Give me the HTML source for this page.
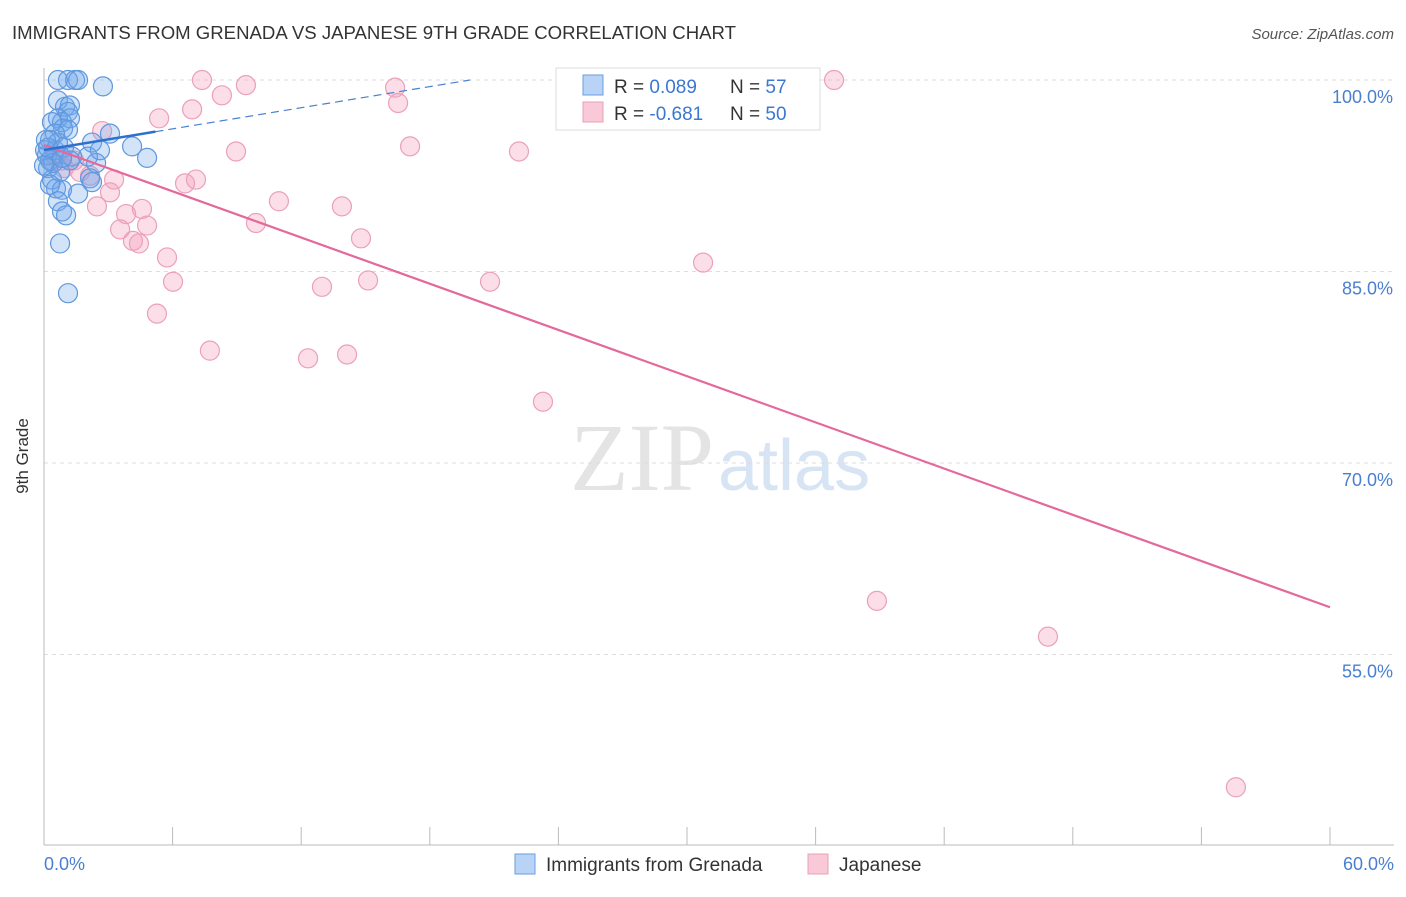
<!DOCTYPE html>
<html><head><meta charset="utf-8"><style>
body{margin:0;background:#fff;font-family:"Liberation Sans",sans-serif}
</style></head><body>
<svg width="1406" height="892" xmlns="http://www.w3.org/2000/svg" font-family="Liberation Sans, sans-serif">
<text x="12" y="39" font-size="18" fill="#333" textLength="724" lengthAdjust="spacingAndGlyphs">IMMIGRANTS FROM GRENADA VS JAPANESE 9TH GRADE CORRELATION CHART</text>
<text x="1394" y="39" font-size="15" fill="#555" font-style="italic" text-anchor="end">Source: ZipAtlas.com</text>
<text x="714" y="490" font-size="96" fill="#e4e4e4" text-anchor="end" font-family="Liberation Serif, serif">ZIP</text>
<text x="718" y="490" font-size="72" fill="#d6e4f4">atlas</text>
<g id="grid"></g>
<line x1="44" y1="68" x2="44" y2="845" stroke="#bbb"/>
<line x1="44" y1="845" x2="1394" y2="845" stroke="#bbb"/>
<g id="xticks"></g>
<text x="28" y="456" font-size="17" fill="#333" text-anchor="middle" transform="rotate(-90 28 456)">9th Grade</text>
<text x="44" y="870" font-size="18" fill="#4a7fd0">0.0%</text>
<text x="1394" y="870" font-size="18" fill="#4a7fd0" text-anchor="end">60.0%</text>
<g id="pts"></g>
<g id="trends"></g>
<g>
<rect x="556" y="68" width="264" height="62" fill="#fff" stroke="#ddd"/>
<rect x="583" y="75" width="20" height="20" fill="#b8d3f5" stroke="#6a9ee0"/>
<rect x="583" y="102" width="20" height="20" fill="#f9c9d7" stroke="#e8a0b8"/>
<text x="614" y="93" font-size="19" fill="#333">R = <tspan fill="#3b78d0">0.089</tspan></text>
<text x="730" y="93" font-size="19" fill="#333">N = <tspan fill="#3b78d0">57</tspan></text>
<text x="614" y="120" font-size="19" fill="#333">R = <tspan fill="#3b78d0">-0.681</tspan></text>
<text x="730" y="120" font-size="19" fill="#333">N = <tspan fill="#3b78d0">50</tspan></text>
</g>
<g>
<rect x="515" y="854" width="20" height="20" fill="#b8d3f5" stroke="#6a9ee0"/>
<text x="546" y="871" font-size="19" fill="#333">Immigrants from Grenada</text>
<rect x="808" y="854" width="20" height="20" fill="#f9c9d7" stroke="#e8a0b8"/>
<text x="839" y="871" font-size="19" fill="#333">Japanese</text>
</g>
</svg>
<script>
const yTicks=[100,85,70,55];
const blueX=[0.65,1.12,1.45,1.59,2.75,0.65,0.98,1.21,1.12,0.65,0.84,1.21,0.89,1.12,0.37,0.51,0.28,3.08,2.24,4.11,4.81,2.43,2.15,2.24,0.51,0.28,0.19,0.37,0.56,0.84,1.59,0.65,0.84,1.03,0.75,1.12,0.05,0.14,0.42,0.75,2.05,1.31,2.61,0.93,0.65,0,0.28,1.21,0.84,0.19,0.09];
const blueY=[100,100,100,100,99.5,98.4,97.9,98.0,97.5,97.0,96.7,97.0,96.2,96.1,96.7,95.8,95.3,95.8,95.1,94.8,93.9,93.5,92.3,92.0,94.5,93.7,93.1,92.2,91.5,91.4,91.1,90.5,89.7,89.4,87.2,83.3,94.5,94.1,93.5,92.8,94.0,94.0,94.5,94.7,95.1,93.3,91.8,93.7,93.9,94.7,95.3];
const pinkX=[7.37,9.42,8.30,6.91,5.37,16.38,16.52,36.86,2.71,8.96,17.08,22.16,0.84,1.68,3.08,3.27,6.58,7.09,2.47,3.83,4.57,3.55,4.81,4.15,4.43,10.96,13.90,9.89,14.79,5.74,6.02,12.97,15.12,20.81,30.75,5.27,7.74,12.32,14.14,23.28,38.86,46.84,55.61,2.15,1.40,0.56,0.93,0.37];
const pinkY=[100,99.6,98.8,97.7,97.0,99.4,98.2,100,96.0,94.4,94.8,94.4,93.7,92.8,91.2,92.2,91.9,92.2,90.1,89.5,89.9,88.3,88.6,87.4,87.2,90.5,90.1,88.8,87.6,86.1,84.2,83.8,84.3,84.2,85.7,81.7,78.8,78.2,78.5,74.8,59.2,56.4,44.6,92.5,93.7,94.0,93.1,93.7];
const blueTrend=[94.52,0.2757]; // intercept, slope
const pinkTrend=[94.9,-0.6033];
const NS="http://www.w3.org/2000/svg";
const X=v=>44+v/60*1286, Y=v=>80+(100-v)*191.5/15;
function mk(t,a,p){const e=document.createElementNS(NS,t);for(const k in a)e.setAttribute(k,a[k]);p.appendChild(e);return e;}
const grid=document.getElementById('grid');
yTicks.forEach(t=>{
 const l=mk('line',{x1:44,x2:1394,y1:Y(t),y2:Y(t),stroke:'#ddd','stroke-dasharray':'4,4'},grid);
 
 
 const tx=mk('text',{x:1393,y:Y(t)+23,'font-size':18,fill:'#4a7fd0','text-anchor':'end'},grid);
 tx.textContent=t.toFixed(1)+'%';
 
 
});
const xt=document.getElementById('xticks');
for(let i=0;i<=10;i++){const l=mk('line',{x1:X(i*6),x2:X(i*6),y1:827,y2:845,stroke:'#bbb'},xt);
 
 }
const pts=document.getElementById('pts');
pinkX.forEach((x,i)=>{const c=mk('circle',{cx:X(x),cy:Y(pinkY[i]),r:9.5,fill:'rgba(244,160,188,0.35)',stroke:'#eba0b9','stroke-width':1.2},pts);
 
 });
blueX.forEach((x,i)=>{const c=mk('circle',{cx:X(x),cy:Y(blueY[i]),r:9.5,fill:'rgba(110,165,235,0.3)',stroke:'#5f98de','stroke-width':1.2},pts);
 
 });
const tr=document.getElementById('trends');
const pl=mk('line',{x1:X(0),y1:Y(pinkTrend[0]),x2:X(60),y2:Y(pinkTrend[0]+60*pinkTrend[1]),stroke:'#e4699a','stroke-width':2.2},tr);


const bl=mk('line',{x1:X(0),y1:Y(blueTrend[0]),x2:X(5.2),y2:Y(blueTrend[0]+5.2*blueTrend[1]),stroke:'#2f6fd0','stroke-width':2.5},tr);


const xe=(100-blueTrend[0])/blueTrend[1];
const bd=mk('line',{x1:X(5.2),y1:Y(blueTrend[0]+5.2*blueTrend[1]),x2:X(xe),y2:Y(100),stroke:'#4a80d0','stroke-width':1.2,'stroke-dasharray':'8,5'},tr);


</script>
</body></html>
